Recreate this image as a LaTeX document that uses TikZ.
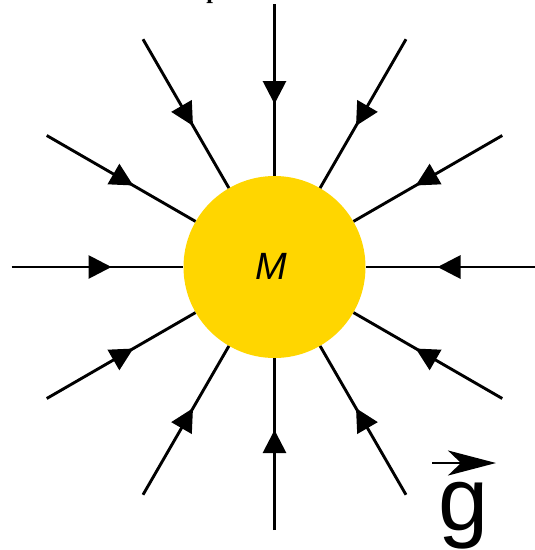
\documentclass[tikz,border=0pt]{standalone}
\usepackage{fontspec}
\setmainfont{Liberation Sans}
\newfontfamily\serifbold{Liberation Serif}
\usetikzlibrary{arrows.meta,decorations.markings,calc}
\definecolor{massyellow}{RGB}{255,214,0}
\tikzset{
  fieldline/.style={line width=2.9pt, black,
    postaction={decorate},
    decoration={markings, mark=at position 100pt with {\arrow{Triangle[length=23pt,width=23pt]}}}},
  massbody/.style={circle, fill=massyellow, minimum size=182pt, inner sep=0pt}
}
\begin{document}
\begin{tikzpicture}[x=1pt,y=-1pt]
\useasboundingbox (0,0) rectangle (535,550);
\begin{scope}
\clip (0,0) rectangle (535,550);
\node[anchor=base, inner sep=0pt, font=\serifbold\bfseries\fontsize{24}{28}\selectfont] (cut) at (213,-1.4) {p};
\end{scope}
\coordinate (C) at (274.5,267);
\foreach \a in {0,30,...,330}{
  \coordinate (o\a) at ($(C)+(\a:263)$);
}
\node[massbody] (M) at (C) {};
\foreach \a in {0,30,...,330}{
  \draw[fieldline] (o\a) -- (M);
}
\node[font=\fontsize{38}{42}\selectfont\itshape, inner sep=0pt] (Mlabel) at (271,266.5) {M};
\node[anchor=base, inner sep=0pt, font=\fontsize{90}{94}\selectfont] (g) at (463.5,530) {g};
\coordinate (ga) at (432,463);
\coordinate (gb) at (496,463);
\draw[line width=2.7pt, -{Stealth[length=48pt,width=25pt,inset=13pt]}] (ga) -- (gb);
\end{tikzpicture}
\end{document}
